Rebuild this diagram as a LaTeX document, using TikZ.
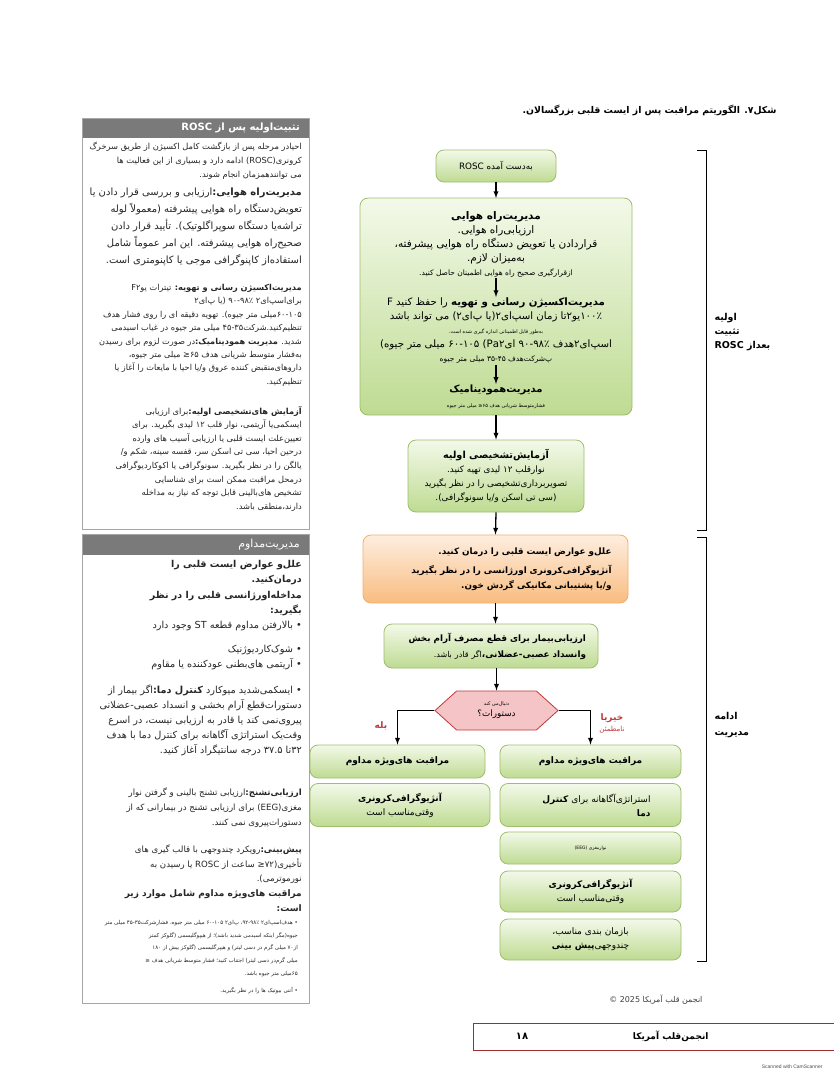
\documentclass[tikz,border=0pt]{standalone}
\usepackage{fontspec}
\setmainfont{Liberation Sans}
\newfontfamily\farsi[Script=Arabic]{DejaVu Sans}
\TeXXeTstate=1
\usetikzlibrary{shapes,arrows,positioning,calc}
\definecolor{cardgreen}{RGB}{190,219,146}
\definecolor{cardlight}{RGB}{243,249,233}
\definecolor{cardedge}{RGB}{158,190,106}
\definecolor{careorange}{RGB}{249,188,128}
\definecolor{carelight}{RGB}{253,238,224}
\definecolor{careedge}{RGB}{241,176,112}
\definecolor{carepink}{RGB}{245,196,198}
\definecolor{carered}{RGB}{192,57,60}
\definecolor{panelgray}{RGB}{122,122,122}
\newcommand{\rl}[1]{\beginR #1\endR}
\newcommand{\fsz}[2]{\fontsize{#1}{#2}\selectfont}

\tikzset{
  greenbox/.style={draw=cardedge, line width=0.8pt, rounded corners=8pt, top color=cardlight, bottom color=cardgreen},
  orangebox/.style={draw=careedge, line width=0.8pt, rounded corners=8pt, top color=carelight, bottom color=careorange},
  flowarrow/.style={-latex, line width=1.3pt},
  paneltext/.style={anchor=north east, inner sep=0pt, align=right, text=black!85},
  panelhead/.style={anchor=east, inner sep=0pt, text=white}
}

\begin{document}
\begin{tikzpicture}[x=1pt, y=-1pt]
    \useasboundingbox (0,0) rectangle (834,1080);
    \fill[white] (0,0) rectangle (834,1080);

    % Title
    \node[anchor=east, font=\farsi\bfseries\fsz{9.3}{12}] (title) at (780,110) {\rl{شکل۷. الگوریتم مراقبت پس از ایست قلبی بزرگسالان.}};

    % Left panel - initial stabilization
    \fill[panelgray] (82,118) rectangle (309,138);
    \draw[gray!70, line width=1pt] (82,118) rectangle (309,529);
    \node[panelhead, font=\farsi\bfseries\fsz{10}{12}] (headone) at (300,128) {\rl{تثبیت‌اولیه پس از ROSC}};
    \node[paneltext, font=\farsi\fsz{8.3}{14}] (introtext) at (302,142) {\rl{احیادر مرحله پس از بازگشت کامل اکسیژن از طریق سرخرگ}\\ \rl{کرونری(ROSC) ادامه دارد و بسیاری از این فعالیت ها}\\ \rl{می توانندهمزمان انجام شوند.}};
    \node[paneltext, font=\farsi\fsz{10}{17}] (airwaytext) at (302,188) {\rl{{\bfseries مدیریت‌راه هوایی:}ارزیابی و بررسی قرار دادن یا}\\ \rl{تعویض‌دستگاه راه هوایی پیشرفته (معمولاً لوله}\\ \rl{تراشه‌یا دستگاه سوپراگلوتیک). تأیید قرار دادن}\\ \rl{صحیح‌راه هوایی پیشرفته. این امر عموماً شامل}\\ \rl{استفاده‌از کاپنوگرافی موجی یا کاپنومتری است.}};
    \node[paneltext, font=\farsi\fsz{8.2}{13.4}] (oxytext) at (302,284) {\rl{{\bfseries مدیریت‌اکسیژن رسانی و تهویه:} تیترات Fیو۲}\\ \rl{برای‌اسپ‌ای۲ ۹۰-۹۸٪ (یا پ‌ای۲}\\ \rl{۶۰-۱۰۵میلی متر جیوه). تهویه دقیقه ای را روی فشار هدف}\\ \rl{تنظیم‌کنید.شرکت۳۵-۴۵ میلی متر جیوه در غیاب اسیدمی}\\ \rl{شدید. {\bfseries مدیریت همودینامیک:}در صورت لزوم برای رسیدن}\\ \rl{به‌فشار متوسط شریانی هدف ۶۵≤ میلی متر جیوه،}\\ \rl{داروهای‌منقبض کننده عروق و/یا احیا با مایعات را آغاز یا}\\ \rl{تنظیم‌کنید.}};
    \node[paneltext, font=\farsi\fsz{8.3}{13.6}] (diagtext) at (302,406) {\rl{{\bfseries آزمایش های‌تشخیصی اولیه:}برای ارزیابی}\\ \rl{ایسکمی‌یا آریتمی، نوار قلب ۱۲ لیدی بگیرید. برای}\\ \rl{تعیین‌علت ایست قلبی یا ارزیابی آسیب های وارده}\\ \rl{درحین احیا، سی تی اسکن سر، قفسه سینه، شکم و/}\\ \rl{یالگن را در نظر بگیرید. سونوگرافی یا اکوکاردیوگرافی}\\ \rl{درمحل مراقبت ممکن است برای شناسایی}\\ \rl{تشخیص های‌بالینی قابل توجه که نیاز به مداخله}\\ \rl{دارند،منطقی باشد.}};

    % Left panel - ongoing management
    \fill[panelgray] (82,534) rectangle (309,555);
    \draw[gray!70, line width=1pt] (82,534) rectangle (309,1003);
    \node[panelhead, font=\farsi\fsz{11}{13}] (headtwo) at (300,545) {\rl{مدیریت‌مداوم}};
    \node[paneltext, font=\farsi\bfseries\fsz{9.5}{15.3}] (causetext) at (302,560) {\rl{علل‌و عوارض ایست قلبی را}\\ \rl{درمان‌کنید.}\\ \rl{مداخله‌اورژانسی قلبی را در نظر}\\ \rl{بگیرید:}};
    \node[paneltext, font=\farsi\fsz{9.7}{15}] (bullettext) at (302,621) {\rl{•\ بالارفتن مداوم قطعه ST وجود دارد}\\[9pt] \rl{•\ شوک‌کاردیوژنیک}\\ \rl{•\ آریتمی های‌بطنی عودکننده یا مقاوم}\\[11pt] \rl{•\ ایسکمی‌شدید میوکارد {\bfseries کنترل دما:}اگر بیمار از}\\ \rl{دستورات‌قطع آرام بخشی و انسداد عصبی-عضلانی}\\ \rl{پیروی‌نمی کند یا قادر به ارزیابی نیست، در اسرع}\\ \rl{وقت‌یک استراتژی آگاهانه برای کنترل دما با هدف}\\ \rl{۳۲تا ۳۷.۵ درجه سانتیگراد آغاز کنید.}};
    \node[paneltext, font=\farsi\fsz{8.6}{15}] (seizuretext) at (302,788) {\rl{{\bfseries ارزیابی‌تشنج:}ارزیابی تشنج بالینی و گرفتن نوار}\\ \rl{مغزی(EEG) برای ارزیابی تشنج در بیمارانی که از}\\ \rl{دستورات‌پیروی نمی کنند.}};
    \node[paneltext, font=\farsi\fsz{8.6}{14.5}] (prognosistext) at (302,845) {\rl{{\bfseries پیش‌بینی:}رویکرد چندوجهی با قالب گیری های}\\ \rl{تأخیری(۷۲≤ ساعت از ROSC یا رسیدن به}\\ \rl{نورموترمی).}};
    \node[paneltext, font=\farsi\bfseries\fsz{9}{15}] (icutext) at (302,889) {\rl{مراقبت های‌ویژه مداوم شامل موارد زیر}\\ \rl{است:}};
    \node[paneltext, font=\farsi\fsz{5.5}{12.8}] (targettext) at (298,920) {\rl{•\ هدف‌اسپ‌ای۲ ۹۲-۹۸٪، پ‌ای۲ ۶۰-۱۰۵ میلی متر جیوه، فشارشرکت۳۵-۴۵ میلی متر}\\ \rl{جیوه(مگر اینکه اسیدمی شدید باشد)؛ از هیپوگلیسمی (گلوکز کمتر}\\ \rl{از۷۰ میلی گرم در دسی لیتر) و هیپرگلیسمی (گلوکز بیش از ۱۸۰}\\ \rl{میلی گرم‌در دسی لیتر) اجتناب کنید؛ فشار متوسط شریانی هدف ≤}\\ \rl{۶۵میلی متر جیوه باشد.}\\[4pt] \rl{•\ آنتی بیوتیک ها را در نظر بگیرید.}};

    % Primary stabilization flow
    \node[greenbox, minimum width=120, minimum height=32, font=\farsi\fsz{8.8}{10}] (rosc) at (496,166) {\rl{به‌دست آمده ROSC}};
    \draw[greenbox] (360,198) rectangle (632,415);
    \coordinate (primetop) at (496,198);
    \coordinate (primebot) at (496,415);
    \node[align=center, inner sep=1pt, font=\farsi\fsz{10.5}{14}] (airway) at (496,244) {\rl{{\bfseries مدیریت‌راه هوایی}}\\ \rl{ارزیابی‌راه هوایی.}\\ \rl{قراردادن یا تعویض دستگاه راه هوایی پیشرفته،}\\ \rl{به‌میزان لازم.}\\ \rl{{\fsz{7.5}{9}ازقرارگیری صحیح راه هوایی اطمینان حاصل کنید.}}};
    \node[align=center, inner sep=1pt, font=\farsi\fsz{10.2}{14}] (oxy) at (496,331) {\rl{{\bfseries مدیریت‌اکسیژن رسانی و تهویه} را حفظ کنید F}\\ \rl{۱۰۰٪یو۲تا زمان اسپ‌ای۲(یا پ‌ای۲) می تواند باشد}\\ \rl{{\fsz{5}{6}به‌طور قابل اطمینانی اندازه گیری شده است.}}\\ \rl{اسپ‌ای۲هدف ۹۰-۹۸٪ (Paای۲ ۶۰-۱۰۵ میلی متر جیوه)}\\ \rl{{\fsz{7.5}{9}پ‌شرکت‌هدف ۳۵-۴۵ میلی متر جیوه}}};
    \node[align=center, inner sep=1pt, font=\farsi\fsz{10}{15}] (hemo) at (496,397) {\rl{{\bfseries مدیریت‌همودینامیک}}\\ \rl{{\fsz{5}{6}فشارمتوسط شریانی هدف ۶۵≤ میلی متر جیوه}}};
    \node[greenbox, minimum width=176, minimum height=72, align=center, font=\farsi\fsz{8.8}{14}] (diag) at (496,476) {\rl{{\bfseries\fsz{9.7}{11}آزمایش‌تشخیصی اولیه}}\\ \rl{نوارقلب ۱۲ لیدی تهیه کنید.}\\ \rl{تصویربرداری‌تشخیصی را در نظر بگیرید}\\ \rl{(سی تی اسکن و/یا سونوگرافی).}};

    % Ongoing management flow
    \node[orangebox, minimum width=265, minimum height=68, text width=232, align=right, font=\farsi\bfseries\fsz{8.8}{15}] (causes) at (495.5,569) {\rl{علل‌و عوارض ایست قلبی را درمان کنید.}\\[4pt] \rl{آنژیوگرافی‌کرونری اورژانسی را در نظر بگیرید}\\ \rl{و/یا پشتیبانی مکانیکی گردش خون.}};
    \node[greenbox, minimum width=214, minimum height=44, text width=190, align=right, font=\farsi\fsz{8.8}{16}] (sedate) at (491,646) {\rl{{\bfseries ارزیابی‌بیمار برای قطع مصرف آرام بخش}}\\ \rl{{\bfseries وانسداد عصبی-عضلانی،}{\fsz{8}{10}اگر قادر باشد.}}};
    \node[signal, signal to=west and east, signal pointer angle=84, draw=carered, fill=carepink, line width=0.8pt, minimum width=123, minimum height=39, inner sep=0pt, align=center, font=\farsi\fsz{8.8}{11}] (follow) at (496.5,710.5) {\rl{{\fsz{5}{6}دنبال‌می کند}}\\ \rl{دستورات؟}};
    \node[font=\farsi\bfseries\fsz{9}{10}, text=carered] (yes) at (381,726) {\rl{بله}};
    \node[align=center, font=\farsi\bfseries\fsz{9}{11}, text=carered] (notsure) at (612,723) {\rl{خیریا}\\ \rl{{\mdseries\fsz{7}{8}نامطمئن}}};

    % Yes column
    \node[greenbox, minimum width=175, minimum height=33, font=\farsi\bfseries\fsz{9}{11}] (iculeft) at (397.5,761.5) {\rl{مراقبت های‌ویژه مداوم}};
    \node[greenbox, minimum width=180, minimum height=43, align=center, font=\farsi\fsz{9}{14}] (angleft) at (400,805) {\rl{{\bfseries آنژیوگرافی‌کرونری}}\\ \rl{وقتی‌مناسب است}};

    % No or uncertain column
    \node[greenbox, minimum width=181, minimum height=33, font=\farsi\bfseries\fsz{9}{11}] (icuright) at (590.5,761.5) {\rl{مراقبت های‌ویژه مداوم}};
    \node[greenbox, minimum width=181, minimum height=43, text width=120, align=right, font=\farsi\fsz{9}{14}] (tempright) at (590.5,805) {\rl{استراتژی‌آگاهانه برای {\bfseries کنترل}}\\ \rl{{\bfseries دما}}};
    \node[greenbox, minimum width=181, minimum height=32, font=\farsi\fsz{4.5}{5}] (eegright) at (590.5,848) {\rl{نوارمغزی (EEG)}};
    \node[greenbox, minimum width=181, minimum height=41, align=center, font=\farsi\fsz{9}{14}] (angright) at (590.5,891.5) {\rl{{\bfseries آنژیوگرافی‌کرونری}}\\ \rl{وقتی‌مناسب است}};
    \node[greenbox, minimum width=181, minimum height=41, align=center, font=\farsi\fsz{9}{14}] (progright) at (590.5,939.5) {\rl{بازمان بندی مناسب،}\\ \rl{چندوجهی{\bfseries پیش بینی}}};

    % Arrows
    \draw[flowarrow] (rosc.south) -- (primetop);
    \draw[flowarrow] (airway.south) -- (oxy.north);
    \draw[flowarrow] (oxy.south) -- (hemo.north);
    \draw[flowarrow] (primebot) -- (diag.north);
    \draw[flowarrow] (diag.south) -- (causes.north);
    \draw[flowarrow] (causes.south) -- (causes.south |- sedate.north);
    \draw[flowarrow] (sedate.south -| follow) -- (follow.north);
    \draw[flowarrow] (follow.west) -| (iculeft.north);
    \draw[flowarrow] (follow.east) -| (icuright.north);

    % Phase brackets
    \draw[line width=1pt] (697,150) -- (706,150) -- (706,530) -- (697,530);
    \draw[line width=1pt] (697,537) -- (706,537) -- (706,961) -- (697,961);
    \node[anchor=west, align=left, font=\farsi\bfseries\fsz{9.5}{14}] (stablabel) at (711,332) {\rl{اولیه}\\ \rl{تثبیت}\\ \rl{بعداز ROSC}};
    \node[anchor=west, align=left, font=\farsi\bfseries\fsz{9.5}{16}] (ongoinglabel) at (711,725) {\rl{ادامه}\\ \rl{مدیریت}};

    % Footer
    \node[anchor=east, font=\farsi\fsz{8}{9}, text=black!75] (copyline) at (706,1000) {\rl{انجمن قلب آمریکا \beginL© 2025\endL}};
    \draw[carered!80!black, line width=0.8pt] (834,1023) -- (473,1023) -- (473,1050) -- (834,1050);
    \node[font=\farsi\bfseries\fsz{10}{12}] (pagenum) at (522,1036) {۱۸};
    \node[anchor=east, font=\farsi\bfseries\fsz{9}{11}] (journal) at (712,1036) {\rl{انجمن‌قلب آمریکا}};
    \node[anchor=east, font=\fsz{5}{6}, text=black!70] (scanned) at (826,1067) {Scanned with CamScanner};
\end{tikzpicture}
\end{document}
